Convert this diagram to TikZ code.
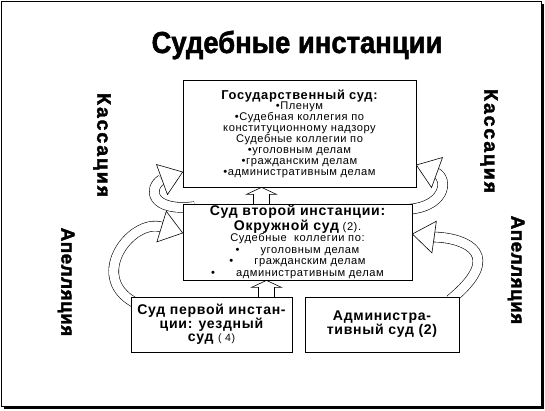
\documentclass[tikz,border=0pt]{standalone}
\usepackage{fontspec}
\setmainfont{Liberation Sans}
\newfontfamily\boxfont[LetterSpace=5]{Liberation Sans}
\newfontfamily\sidefont[LetterSpace=3,BoldFeatures={FakeBold=2}]{Liberation Sans}
\newfontfamily\kassfont[LetterSpace=10,BoldFeatures={FakeBold=2}]{Liberation Sans}
\newfontfamily\titlefont[FakeStretch=0.9,BoldFeatures={FakeBold=1.5}]{Liberation Sans}
\usetikzlibrary{calc,backgrounds}
\tikzset{
  court/.style={draw,fill=white,align=center,inner sep=1pt,line width=0.6pt},
  ribbon/.style={double=white,double distance=0.28cm,line width=0.5pt},
  sideword/.style={rotate=-90,inner sep=0pt,font=\kassfont\bfseries\fontsize{16.5}{16.5}\selectfont},
  apword/.style={rotate=-90,inner sep=0pt,font=\sidefont\bfseries\fontsize{16}{16}\selectfont},
  % pictograms
  pics/rhead/.style={code={
    \filldraw[fill=white,line width=0.5pt] (0,0) -- (-22,-16) -- (-22,16) -- cycle;
  }},
  pics/uparr/.style={code={
    \filldraw[fill=white,line width=0.5pt] (0,0) -- (15,7) -- (8,7) -- (8,17) -- (-8,17) -- (-8,7) -- (-15,7) -- cycle;
  }},
}

\begin{document}
\begin{tikzpicture}[x=0.03cm,y=-0.03cm]
  \useasboundingbox (0,0) rectangle (545,410);
  \node[font=\titlefont\bfseries\fontsize{26}{26}\selectfont] (title) at (297,45) {Судебные инстанции};

  \node[court,minimum width=6.99cm,minimum height=3.21cm,font=\boxfont\fontsize{9.5}{9.3}\selectfont] (gos) at (299.5,133.5)
    {{\bfseries\fontsize{11}{9.3}\selectfont Государственный суд:}\\
     \textbullet Пленум\\
     \textbullet Судебная коллегия по\\
     конституционному надзору\\
     Судебные коллегии по\\
     \textbullet уголовным делам\\
     \textbullet гражданским делам\\
     \textbullet административным делам};
  \node[court,minimum width=6.87cm,minimum height=2.28cm,font=\boxfont\fontsize{9.5}{9.9}\selectfont] (okr) at (297.5,242)
    {{\bfseries\fontsize{12}{9.9}\selectfont Суд второй инстанции:}\\
     {\bfseries\fontsize{12}{9.9}\selectfont Окружной суд} (2).\\
     Судебные\ \ коллегии по:\\
     \textbullet\hspace{18pt}уголовным делам\\
     \textbullet\hspace{18pt}гражданским делам\\
     \textbullet\hspace{18pt}административным делам};
  \node[court,minimum width=4.83cm,minimum height=1.65cm,font=\boxfont\bfseries\fontsize{12}{11.5}\selectfont] (uezd) at (211.5,324.5)
    {Суд первой инстан-\\ции: уездный\\суд {\mdseries\fontsize{9}{9}\selectfont( 4)}};
  \node[court,minimum width=4.62cm,minimum height=1.65cm,font=\boxfont\bfseries\fontsize{12}{12}\selectfont] (adm) at (382,324.5)
    {Администра-\\тивный суд (2)};

  \node[sideword] (kassL) at (102,145) {Кассация};
  \node[sideword] (kassR) at (489,141) {Кассация};
  \node[apword] (apL) at (66,282) {Апелляция};
  \node[apword] (apR) at (516,270) {Апелляция};

  \begin{scope}[on background layer]
    \fill (4,4) rectangle (544,409);
    \filldraw[fill=white,line width=0.6pt] (1,1) rectangle (541,406);
    % appeal and cassation ribbons
    \draw[ribbon] ($(uezd.north west)+(8,8)$) .. controls (85,280) and (130,218) .. ($(okr.west)+(-21,-15)$);
    \draw[ribbon] ($(okr.north west)+(12,3)$) .. controls (150,212) and (148,188) .. ($(gos.west)+(-21,46)$);
    \draw[ribbon] ($(okr.north east)+(-12,6)$) .. controls (447,210) and (449,178) .. ($(gos.east)+(19,39)$);
    \draw[ribbon] ($(adm.north east)+(-9,3)$) .. controls (505,255) and (467,238) .. ($(okr.east)+(22,-5)$);
    \pic at ($(gos.south)+(-38,0)$) {uparr};
    \pic at ($(okr.south)+(-31,0)$) {uparr};
  \end{scope}

  \pic[rotate=-17] at ($(okr.west)+(0,-9)$) {rhead};
  \pic[rotate=20] at ($(gos.west)+(0,38.5)$) {rhead};
  \pic[rotate=160] at ($(gos.east)+(0,31.5)$) {rhead};
  \pic[rotate=172] at ($(okr.east)+(0,-8)$) {rhead};
\end{tikzpicture}
\end{document}
